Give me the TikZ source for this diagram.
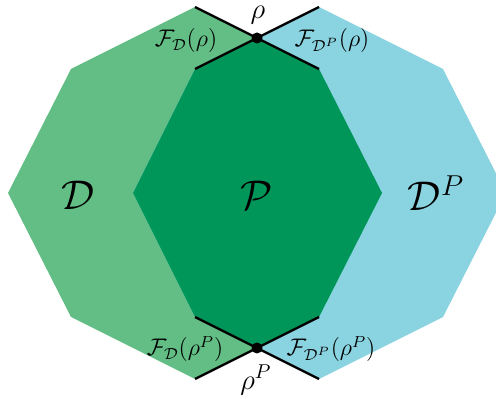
\documentclass[tikz,border=0pt]{standalone}
\usepackage{amsmath}
\usetikzlibrary{positioning}
\definecolor{dgreen}{RGB}{98,190,132}
\definecolor{pgreen}{RGB}{0,150,89}
\definecolor{dpblue}{RGB}{138,211,224}
\tikzstyle{facet} = [line width=1.2pt, draw=black]
\tikzstyle{vertex} = [circle, fill=black, inner sep=0pt, minimum size=5.5pt]
\tikzstyle{flabel} = [font=\large, inner sep=0pt]
\tikzstyle{vlabel} = [font=\Large, inner sep=0pt]
\tikzstyle{biglabel} = [font=\huge, inner sep=1pt]

\begin{document}
\begin{tikzpicture}[x=0.5pt, y=-0.5pt]
\useasboundingbox (0,0) rectangle (496,399);
\clip (0,0) rectangle (496,399);

%% ---- POLYTOPE D ----
\coordinate (dT)  at (195,7);
\coordinate (dTL) at (71,69);
\coordinate (dL)  at (8,193);
\coordinate (dBL) at (71,317);
\coordinate (dB)  at (195,379);
\coordinate (dBR) at (319,317);
\coordinate (dR)  at (382,193);
\coordinate (dTR) at (319,69);
\fill[dgreen] (dT) -- (dTL) -- (dL) -- (dBL) -- (dB) -- (dBR) -- (dR) -- (dTR) -- cycle;

%% ---- POLYTOPE D^P ----
\coordinate (pT)  at (319,7);
\coordinate (pTL) at (195,69);
\coordinate (pL)  at (133,193);
\coordinate (pBL) at (195,317);
\coordinate (pB)  at (319,379);
\coordinate (pBR) at (443,317);
\coordinate (pR)  at (506,193);
\coordinate (pTR) at (443,69);
\fill[dpblue] (pT) -- (pTL) -- (pL) -- (pBL) -- (pB) -- (pBR) -- (pR) -- (pTR) -- cycle;

%% ---- INTERSECTION P ----
\coordinate (rho)  at (257,38);
\coordinate (rhoP) at (257,348);
\fill[pgreen] (rho) -- (dTR) -- (dR) -- (dBR) -- (rhoP) -- (pBL) -- (pL) -- (pTL) -- cycle;

%% ---- FACETS THROUGH THE VERTICES ----
\draw[facet] (dT) -- (dTR);
\draw[facet] (pT) -- (pTL);
\draw[facet] (pBL) -- (pB);
\draw[facet] (dB) -- (dBR);

\node (vrho)  [vertex] at (rho)  {};
\node (vrhoP) [vertex] at (rhoP) {};

%% ---- LABELS ----
\node (lrho)  [vlabel] at (258,15)  {$\rho$};
\node (lrhoP) [vlabel] at (256,380) {$\rho^P$};
\node (fdr)   [flabel] at (186,41)  {$\mathcal{F}_{\mathcal{D}}(\rho)$};
\node (fdpr)  [flabel] at (332,41)  {$\mathcal{F}_{\mathcal{D}^P}(\rho)$};
\node (fdrp)  [flabel] at (185,349) {$\mathcal{F}_{\mathcal{D}}(\rho^P)$};
\node (fdprp) [flabel] at (331,349) {$\mathcal{F}_{\mathcal{D}^P}(\rho^P)$};

\node (ld)  [biglabel] at (78,195)  {$\mathcal{D}$};
\node (lp)  [biglabel] at (257,195) {$\mathcal{P}$};
\node (ldp) [biglabel] at (436,193) {$\mathcal{D}^P$};

\end{tikzpicture}
\end{document}
